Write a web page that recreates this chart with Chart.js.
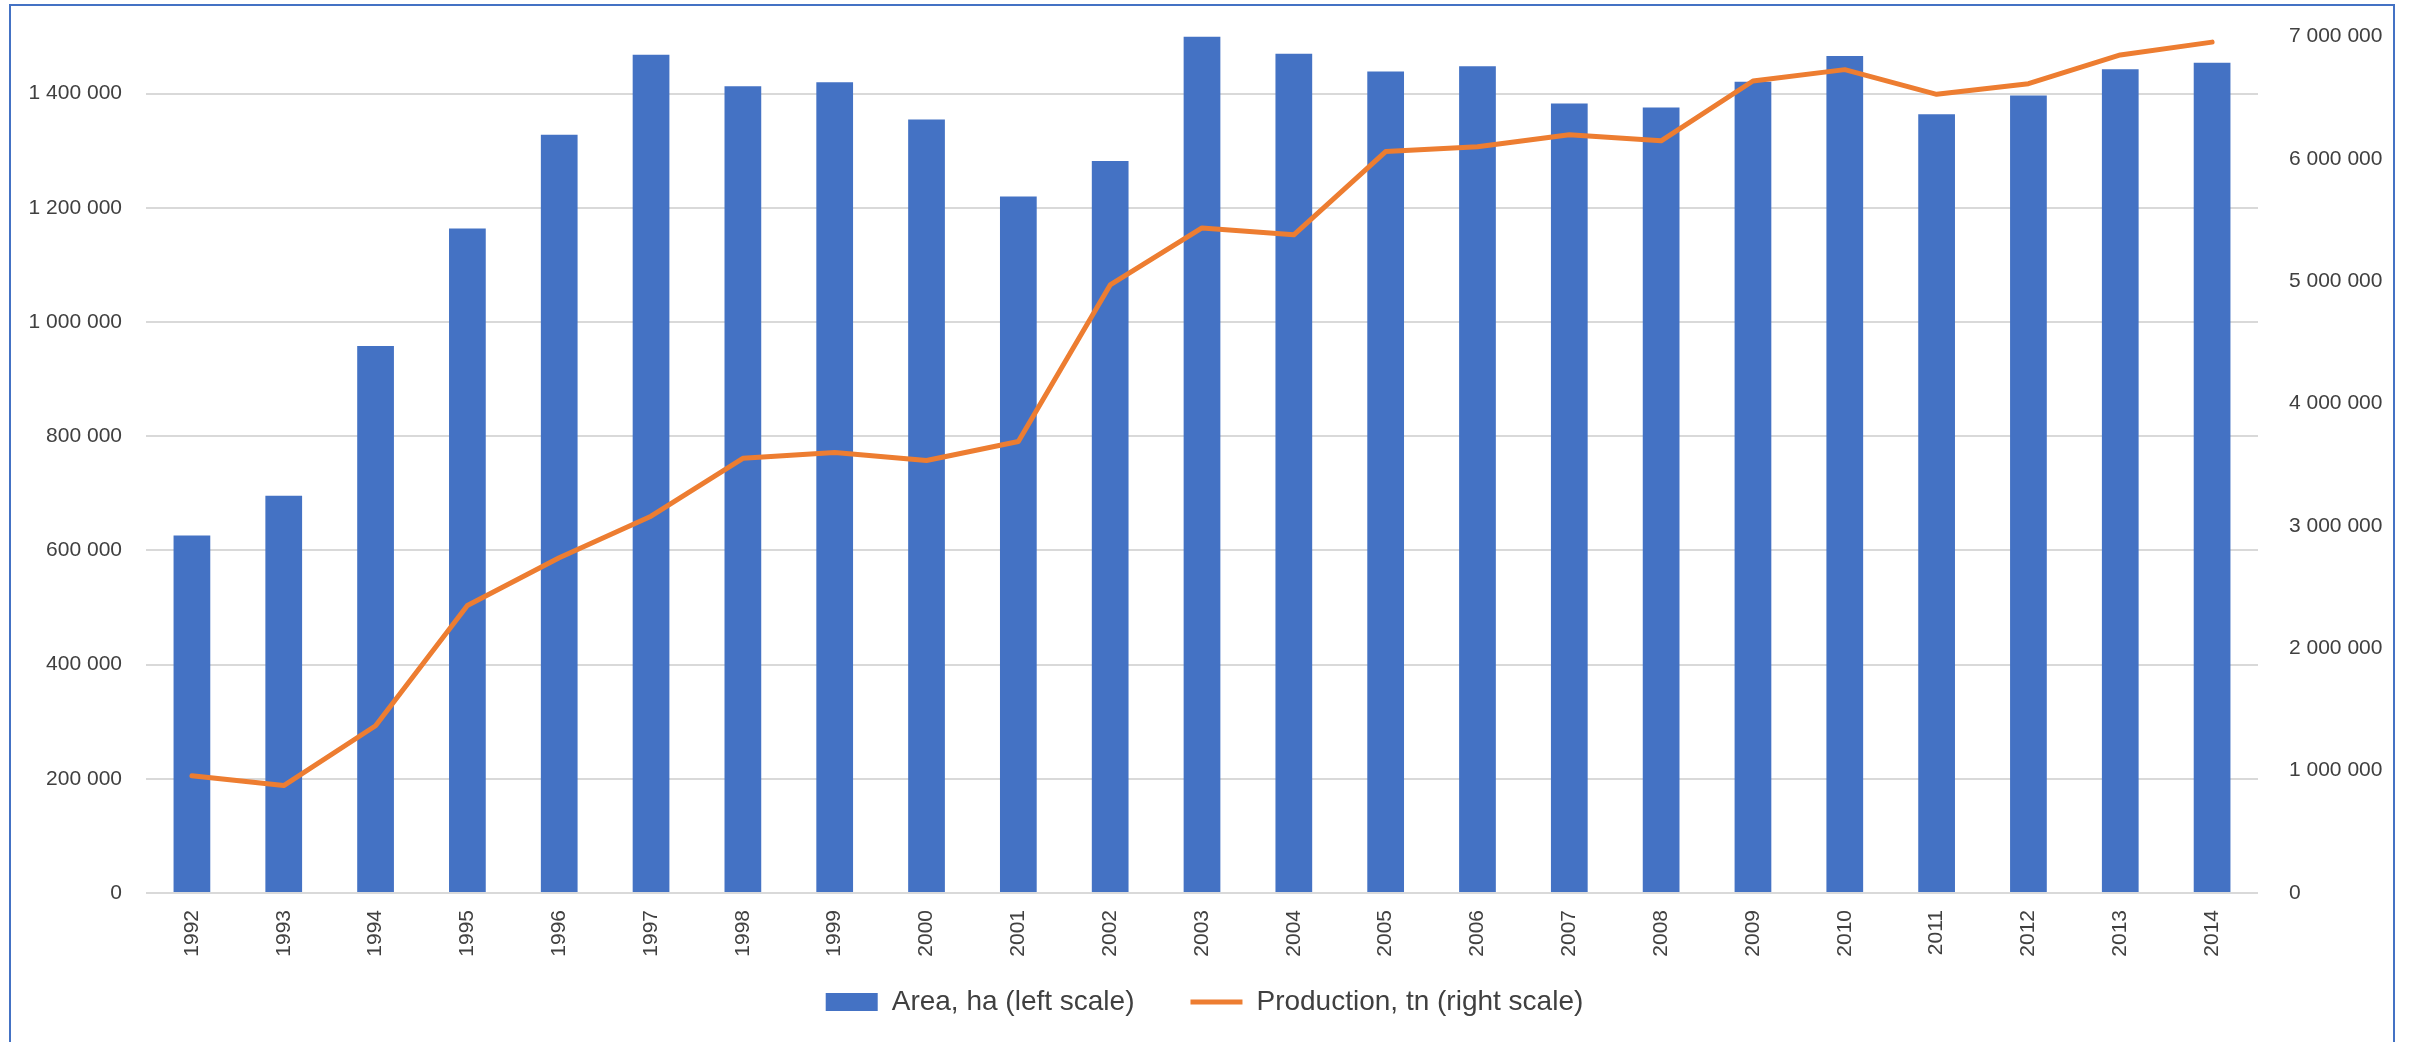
<!DOCTYPE html>
<html>
<head>
<meta charset="utf-8">
<script src="https://cdn.jsdelivr.net/npm/chart.js@4"></script>
<style>
  html, body { margin: 0; padding: 0; background: #fff; overflow: hidden; }
  #wrap { position: absolute; left: 0; top: 0; width: 2409px; height: 1042px; }
  #frame {
    position: absolute; left: 9px; top: 4px; width: 2386px; height: 1100px;
    border: 2px solid #4472C4; box-sizing: border-box; pointer-events: none;
  }
</style>
</head>
<body>
<div id="wrap"><canvas id="myChart"></canvas></div>
<div id="frame"></div>
<script>
const years = ['1992', '1993', '1994', '1995', '1996', '1997', '1998', '1999', '2000', '2001', '2002',
  '2003', '2004', '2005', '2006', '2007', '2008', '2009', '2010', '2011', '2012', '2013', '2014'];

// left scale, ha
const area = [626000, 696000, 958000, 1164000, 1328000, 1468000, 1413000, 1420000, 1355000, 1220000, 1282000,
  1500000, 1470000, 1439000, 1448000, 1383000, 1376000, 1421000, 1466000, 1364000, 1397000, 1443000, 1454000];

// right scale, tn
const production = [959000, 878000, 1367000, 2350000, 2740000, 3080000, 3553000, 3600000, 3535000, 3690000, 4970000,
  5436000, 5380000, 6060000, 6100000, 6197000, 6148000, 6637000, 6730000, 6528000, 6615000, 6850000, 6955000];

const leftTicks = [0, 200000, 400000, 600000, 800000, 1000000, 1200000, 1400000];
const rightTicks = [0, 1000000, 2000000, 3000000, 4000000, 5000000, 6000000, 7000000];

const seriesLabels = ['Area, ha (left scale)', 'Production, tn (right scale)'];

const textColor = '#404040';
const fontFamily = "'Liberation Sans', Arial, sans-serif";

function spaced(value) {
  return value.toString().replace(/\B(?=(\d{3})+(?!\d))/g, ' ');
}

// legend padding is also the gap between items, so pull the legend box up a bit
const legendLift = {
  id: 'legendLift',
  afterLayout(chart) {
    chart.legend.top -= 33;
    chart.legend.bottom -= 33;
  },
};

const ctx = document.getElementById('myChart').getContext('2d');
const myChart = new Chart(ctx, {
  data: {
    labels: years,
    datasets: [
      {
        type: 'bar',
        label: seriesLabels[0],
        data: area,
        yAxisID: 'y',
        backgroundColor: '#4472C4',
        borderWidth: 0,
        barPercentage: 0.4,
        categoryPercentage: 1.0,
        pointStyle: 'rect',
        order: 1,
      },
      {
        type: 'line',
        label: seriesLabels[1],
        data: production,
        yAxisID: 'y1',
        borderColor: '#ED7D31',
        backgroundColor: '#ED7D31',
        borderWidth: 5,
        borderCapStyle: 'round',
        borderJoinStyle: 'round',
        pointRadius: 0,
        pointHoverRadius: 0,
        pointStyle: 'line',
        tension: 0,
        order: 0,
      },
    ],
  },
  plugins: [legendLift],
  options: {
    responsive: true,
    maintainAspectRatio: false,
    animation: false,
    layout: {
      padding: { top: 34, bottom: -17, left: 0, right: 0 },
    },
    plugins: {
      tooltip: { enabled: false },
      legend: {
        position: 'bottom',
        labels: {
          usePointStyle: true,
          pointStyleWidth: 52,
          boxHeight: 18,
          padding: 56,
          color: textColor,
          font: { family: fontFamily, size: 28 },
          sort: (a, b) => a.datasetIndex - b.datasetIndex,
        },
      },
    },
    scales: {
      x: {
        grid: { display: false },
        border: { display: false },
        ticks: {
          color: textColor,
          font: { family: fontFamily, size: 21 },
          minRotation: 90,
          maxRotation: 90,
          autoSkip: false,
          padding: 9,
        },
        afterFit: (scale) => { scale.height = 72; },
      },
      y: {
        position: 'left',
        min: 0,
        max: 1500000,
        ticks: {
          color: textColor,
          font: { family: fontFamily, size: 21 },
          padding: 24,
          autoSkip: false,
          callback: (value) => spaced(value),
        },
        afterBuildTicks: (scale) => {
          scale.ticks = leftTicks.map((v) => ({ value: v }));
        },
        afterFit: (scale) => { scale.width = 146; },
        grid: { color: '#D9D9D9', lineWidth: 2, drawTicks: false },
        border: { display: false },
      },
      y1: {
        position: 'right',
        min: 0,
        max: 7000000,
        ticks: {
          color: textColor,
          font: { family: fontFamily, size: 21 },
          padding: 23,
          autoSkip: false,
          callback: (value) => spaced(value),
        },
        afterBuildTicks: (scale) => {
          scale.ticks = rightTicks.map((v) => ({ value: v }));
        },
        afterFit: (scale) => { scale.width = 151; },
        grid: { display: false },
        border: { display: false },
      },
    },
  },
});
</script>
</body>
</html>
